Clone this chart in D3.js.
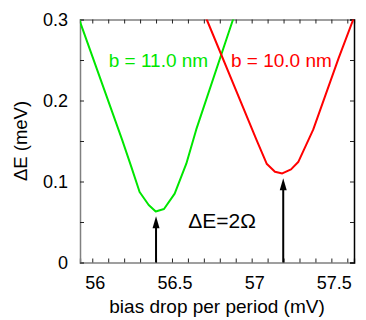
<!DOCTYPE html>
<html>
<head>
  <meta charset="UTF-8" />
  <script src="https://d3js.org/d3.v7.min.js"></script>
  <style>
    body { margin: 0; background: #fff; }
    svg { display: block; background: #fff; font-family: "Liberation Sans", Arial, sans-serif; }
    .tick text { font-size: 18px; fill: #000; }
  </style>
</head>
<body>
<svg width="366" height="320"></svg>
<script>
  // data
  const green_x = [55.90, 56.188, 56.245, 56.297, 56.354, 56.398, 56.450, 56.517, 56.590, 56.652, 56.883, 56.90];
  const green_y = [0.310, 0.151, 0.118, 0.087, 0.071, 0.063, 0.066, 0.085, 0.122, 0.164, 0.300, 0.305];
  const red_x = [56.70, 56.718, 57.031, 57.094, 57.146, 57.192, 57.247, 57.292, 57.386, 57.545, 57.637, 57.65];
  const red_y = [0.306, 0.300, 0.151, 0.122, 0.112, 0.110, 0.115, 0.124, 0.164, 0.252, 0.300, 0.305];

  const arrow_x = [56.40, 57.198];
  const arrow_tip = [0.057, 0.104];

  const xTicks = d3.range(56.0, 57.65, 0.1).map(v => +v.toFixed(1));
  const xLabels = [56, 56.5, 57, 57.5];
  const yTicks = [0, 0.05, 0.1, 0.15, 0.2, 0.25, 0.3];
  const yLabels = [0, 0.1, 0.2, 0.3];

  const svg = d3.select("svg"),
        margin = {top: 19.5, right: 12, bottom: 57.5, left: 80},
        width = +svg.attr("width") - margin.left - margin.right,
        height = +svg.attr("height") - margin.top - margin.bottom;

  const g = svg.append("g").attr("transform", `translate(${margin.left},${margin.top})`);

  const x = d3.scaleLinear().domain([55.923, 57.642]).range([0, width]);
  const y = d3.scaleLinear().domain([0, 0.3]).range([height, 0]);

  const fmt = v => xLabels.some(l => Math.abs(l - v) < 1e-6) ? String(v) : "";
  const fmtY = v => yLabels.some(l => Math.abs(l - v) < 1e-6) ? String(v) : "";

  // axes, ticks pointing inward
  const xb = g.append("g").attr("transform", `translate(0,${height})`)
    .call(d3.axisBottom(x).tickValues(xTicks).tickSize(-4).tickPadding(14).tickFormat(fmt));
  xb.selectAll(".tick text").attr("dx", 2.5);
  const xt = g.append("g")
    .call(d3.axisTop(x).tickValues(xTicks).tickSize(-4).tickFormat(""));
  const yl = g.append("g")
    .call(d3.axisLeft(y).tickValues(yTicks).tickSize(-4).tickPadding(12).tickFormat(fmtY));
  const yr = g.append("g").attr("transform", `translate(${width},0)`)
    .call(d3.axisRight(y).tickValues(yTicks).tickSize(-4).tickFormat(""));

  [xb, xt, yl].forEach(a => {
    a.select(".domain").attr("stroke", "#808080").attr("stroke-width", 1.5);
    a.selectAll(".tick line").attr("stroke", "#222");
  });
  yr.select(".domain").attr("stroke", "#000").attr("stroke-width", 1.5);
  yr.selectAll(".tick line").attr("stroke", "#222");

  // clip the curves to the frame
  svg.append("defs").append("clipPath").attr("id", "clip")
    .append("rect").attr("width", width).attr("height", height);

  const line = d3.line().x(d => x(d[0])).y(d => y(d[1]));
  const curves = [
    {xs: green_x, ys: green_y, color: "#00e600"},
    {xs: red_x, ys: red_y, color: "#ff0000"}
  ];
  curves.forEach(c => {
    g.append("path")
      .datum(c.xs.map((v, i) => [v, c.ys[i]]))
      .attr("clip-path", "url(#clip)")
      .attr("fill", "none")
      .attr("stroke", c.color)
      .attr("stroke-width", 2)
      .attr("stroke-linejoin", "round")
      .attr("d", line);
  });

  // arrows
  arrow_x.forEach((ax, i) => {
    const px = x(ax), tip = y(arrow_tip[i]);
    g.append("line")
      .attr("x1", px).attr("x2", px)
      .attr("y1", height).attr("y2", tip + 8)
      .attr("stroke", "#000").attr("stroke-width", 2);
    g.append("path")
      .attr("d", `M${px},${tip} L${px - 3.5},${tip + 12} L${px + 3.5},${tip + 12} Z`)
      .attr("fill", "#000");
  });

  // labels on the plot
  g.append("text")
    .attr("x", x(56.103)).attr("y", y(0.2417))
    .attr("fill", "#00e600").style("font-size", "19px")
    .text("b = 11.0 nm");
  g.append("text")
    .attr("x", x(56.870)).attr("y", y(0.2417))
    .attr("fill", "#ff0000").style("font-size", "19px")
    .text("b = 10.0 nm");
  g.append("text")
    .attr("x", x(56.602)).attr("y", y(0.042))
    .attr("fill", "#000").style("font-size", "21px")
    .text("ΔE=2Ω");

  // axis titles
  g.append("text")
    .attr("x", width / 2).attr("y", height + 50)
    .attr("text-anchor", "middle").style("font-size", "19px")
    .text("bias drop per period (mV)");
  g.append("text")
    .attr("transform", "rotate(-90)")
    .attr("x", -height / 2).attr("y", -53)
    .attr("text-anchor", "middle").style("font-size", "18.5px")
    .text("ΔE (meV)");
</script>
</body>
</html>
